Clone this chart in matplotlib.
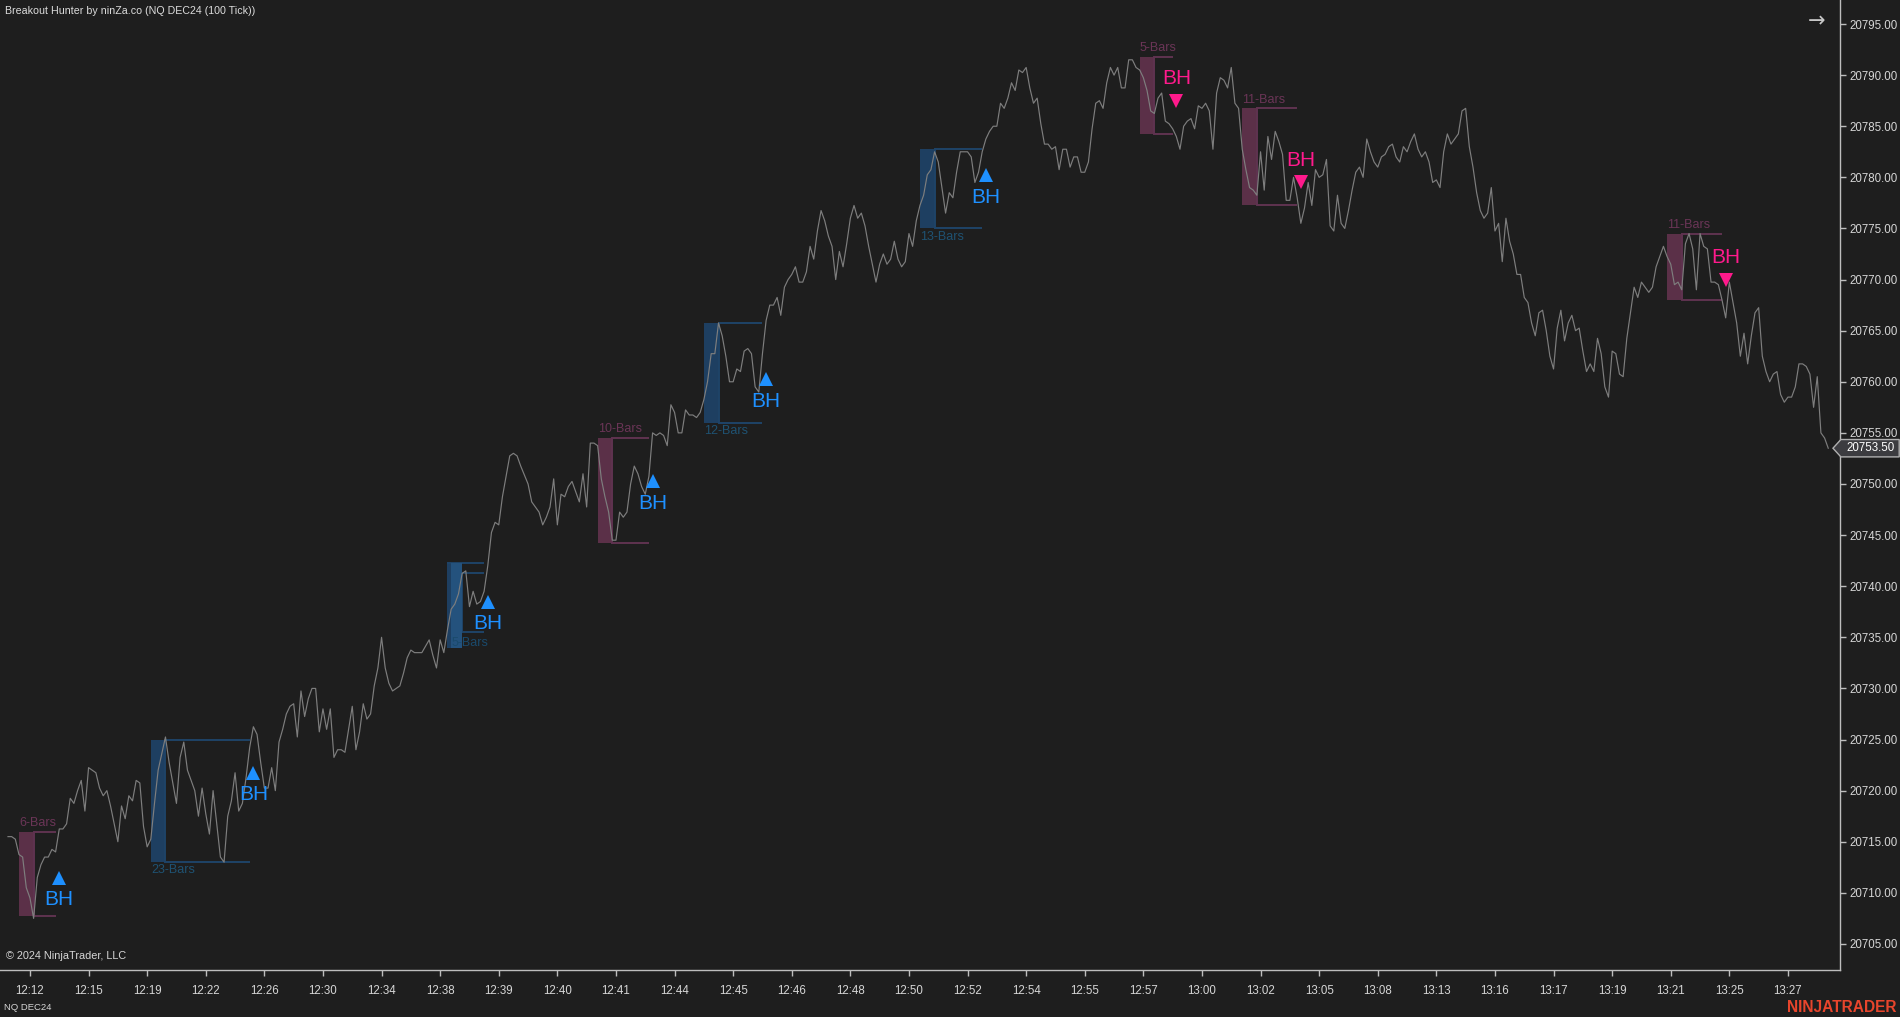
import numpy as np
import matplotlib.pyplot as plt
from matplotlib.patches import Rectangle, Polygon
from matplotlib.transforms import blended_transform_factory

plt.rcParams['font.family'] = ['Liberation Sans', 'DejaVu Sans']

BG = '#1e1e1e'
AXIS_COL = '#bdbdbd'
TXT_COL = '#d6d6d6'

# x axis: bar index (100 tick bars), one label every 16 bars
time_labels = ['12:12', '12:15', '12:19', '12:22', '12:26', '12:30', '12:34', '12:38',
               '12:39', '12:40', '12:41', '12:44', '12:45', '12:46', '12:48', '12:50',
               '12:52', '12:54', '12:55', '12:57', '13:00', '13:02', '13:05', '13:08',
               '13:13', '13:16', '13:17', '13:19', '13:21', '13:25', '13:27']
tick_bars = list(range(6, 487, 16))
price_ticks = np.arange(20705, 20796, 5)

# close prices, bars listed in gap_bars were not read
gap_bars = [42, 45, 112, 114, 141, 144, 255, 443]
close = [
    20715.5, 20715.5, 20715.25, 20713.75, 20713.5, 20710.5, 20709.5, 20707.5, 20711.5, 20712.75,
    20713.5, 20713.5, 20714.25, 20714, 20716.25, 20716.25, 20716.75, 20719.25, 20718.75, 20720,
    20721, 20718, 20722.25, 20722, 20721.75, 20720.25, 20719.5, 20720, 20718.5, 20716.75,
    20715, 20718.5, 20717.25, 20719.5, 20719, 20721, 20720.75, 20716.5, 20714.5, 20715.25,
    20718.75, 20722, 20725.25, 20722.75, 20718.75, 20723.25, 20724.75, 20722,
    20721, 20720, 20717.5, 20720.25, 20717.75, 20715.75, 20720, 20716.75, 20713.5, 20713,
    20717.5, 20719, 20721.75, 20718, 20718.75, 20721.25, 20724.25, 20726.25, 20725.5, 20722.75,
    20720.25, 20720.25, 20722.25, 20720, 20724.75, 20726, 20727.5, 20728.25, 20728.5, 20725.25,
    20729.75, 20727.25, 20729, 20730, 20730, 20725.75, 20728, 20726, 20728, 20723.25,
    20724, 20724, 20723.75, 20726, 20728.25, 20724, 20725.75, 20728.5, 20727, 20727.5,
    20730.25, 20732, 20735, 20732, 20730.5, 20729.75, 20730, 20730.25, 20731.5, 20733,
    20733.75, 20733.5, 20733.5, 20734.75, 20733.25, 20732, 20734.75, 20733.5,
    20735.75, 20737.75, 20738.25, 20739.25, 20741.25, 20741.5, 20738, 20739.5, 20738.25, 20738.5,
    20739.5, 20742, 20745.25, 20746.25, 20746, 20748.75, 20750.75, 20752.75, 20753, 20752.75,
    20751.75, 20750, 20748.25, 20747.25, 20746, 20746.75, 20747.75, 20750.5,
    20746, 20749, 20748.75, 20749.75, 20750.25, 20749.25, 20748.25, 20751, 20747.75, 20754,
    20754, 20753.75, 20750.5, 20748.75, 20747.25, 20744.5, 20744.5, 20747.25, 20746.75, 20747.25,
    20750, 20751.75, 20751, 20749.75, 20749, 20750.75, 20755, 20754.75, 20755, 20754.75,
    20753.75, 20757.75, 20757, 20755, 20755, 20757.25, 20756.75, 20756.75, 20756.5, 20757,
    20758.25, 20760, 20762.75, 20762.75, 20765.75, 20764.5, 20762.5, 20760, 20760, 20761.25,
    20761, 20763, 20763.25, 20762.75, 20759.5, 20759, 20762.75, 20766, 20767.5, 20767.5,
    20768.25, 20766.5, 20769.25, 20770, 20770.5, 20771.25, 20769.75, 20769.75, 20770.75, 20773.25,
    20772, 20774.75, 20776.75, 20775.75, 20774.25, 20773.25, 20770, 20772.75, 20771.25, 20773.5,
    20776, 20777.25, 20776, 20776.5, 20775.25, 20773.25, 20771.5, 20769.75, 20771.5, 20772.5,
    20771.5, 20772, 20773.75, 20772, 20771.25, 20771.75, 20774.5, 20773.25, 20775.75, 20777.25,
    20778.25, 20780.25, 20780.75, 20782.5, 20781.5, 20776.5, 20778.5, 20778, 20780.5,
    20782.5, 20782.5, 20782.5, 20782, 20779.5, 20780.5, 20782.5, 20783.75, 20784.5, 20785,
    20785, 20787.25, 20786.75, 20787.75, 20789.25, 20788.5, 20790.5, 20790.25, 20790.75, 20788.75,
    20787.25, 20787.75, 20785.25, 20783.25, 20783.25, 20782.75, 20783, 20780.75, 20782.75, 20782.75,
    20781, 20782, 20782, 20780.5, 20780.5, 20781.5, 20784.75, 20787.25, 20787.5, 20786.75,
    20789.25, 20790.75, 20790, 20790.75, 20788.75, 20788.75, 20791.5, 20791.5, 20790.75, 20790.5,
    20789.75, 20788.5, 20786.5, 20786.25, 20787.75, 20788.25, 20785.5, 20785.25, 20784.75, 20784,
    20782.75, 20785, 20785.5, 20785.75, 20784.75, 20787, 20786.75, 20787.25, 20786.5, 20782.75,
    20788.25, 20789.75, 20789.5, 20788.75, 20790.75, 20787.25, 20786.75, 20782.75, 20780.75, 20779,
    20778.75, 20778.25, 20782.5, 20778.75, 20784, 20781.75, 20784.5, 20783.5, 20782.25, 20777.75,
    20777.75, 20780, 20778, 20775.5, 20777, 20779.5, 20777.25, 20780.75, 20780, 20780.25,
    20781.75, 20775.25, 20774.75, 20778.25, 20775.5, 20775, 20776.75, 20778.75, 20780.5, 20781,
    20780, 20783.75, 20782.5, 20781.5, 20781, 20782, 20782.25, 20783, 20783.25, 20782,
    20781.5, 20783, 20782.5, 20783.5, 20784.25, 20782.75, 20782, 20782.5, 20781.5, 20779.5,
    20779.75, 20779, 20782.5, 20784.25, 20783.25, 20783.75, 20784.25, 20786.5, 20786.75, 20783,
    20781, 20778.5, 20776.75, 20776, 20776.5, 20779, 20774.75, 20775.5, 20771.75, 20776,
    20773.75, 20772.5, 20770.5, 20770.5, 20768.25, 20767.75, 20765.75, 20764.5, 20766.75, 20767,
    20765, 20762.5, 20761.25, 20765.25, 20767, 20764, 20765.75, 20766.5, 20765, 20765.25,
    20763, 20761, 20761.75, 20761, 20764.25, 20762.75, 20759.5, 20758.5, 20763, 20762.75,
    20760.75, 20760.5, 20764.25, 20769.25, 20768.25, 20769.75, 20769.25, 20768.75, 20769.25,
    20771.25, 20772.25, 20773.25, 20772.25, 20771.5, 20769.5, 20769.75, 20769, 20773.5, 20774.5,
    20773, 20769, 20774.5, 20773.25, 20773, 20769.75, 20769.75, 20769.5, 20768, 20766.25,
    20769.75, 20767.75, 20765.75, 20762.5, 20764.75, 20761.75, 20764.5, 20766.75, 20767.25, 20762.5,
    20761, 20760, 20760.75, 20761, 20758.75, 20758, 20758.5, 20758.5, 20759.5, 20761.75,
    20761.75, 20761.5, 20760.75, 20757.5, 20760.5, 20755, 20754.5, 20753.5,
]
bars = [b for b in range(len(close) + len(gap_bars)) if b not in gap_bars]
last_price = close[-1]

# breakout ranges
box_n = [6, 23, 5, 10, 12, 13, 5, 11, 11]
box_bear = [True, False, False, True, False, False, True, True, True]
box_start = [3, 39, 120, 161, 190, 249, 309, 337, 453]
box_fill_end = [7, 43, 124, 165, 194, 253, 313, 341, 457]
box_end = [13, 66, 130, 175, 206, 266, 318, 352, 468]
box_high = [20716, 20725, 20742.25, 20754.5, 20765.75, 20782.75, 20791.75, 20786.75, 20774.5]
box_low = [20707.75, 20713, 20734, 20744.25, 20756, 20775, 20784.25, 20777.25, 20768]
# bracket levels (only the 12:38 range has an inner bracket)
brk_high = [20716, 20725, 20741.25, 20754.5, 20765.75, 20782.75, 20791.75, 20786.75, 20774.5]
brk_low = [20707.75, 20713, 20735.5, 20744.25, 20756, 20775, 20784.25, 20777.25, 20768]

# BH signals
sig_bar = [14, 67, 131, 176, 207, 267, 319, 353, 469]
sig_price = [20711.5, 20721.75, 20738.5, 20750.25, 20760.25, 20780.25, 20787.5, 20779.5, 20770]
sig_long = [True, True, True, True, True, True, False, False, False]

BEAR_FILL, BEAR_LINE, BEAR_TXT = '#5b3048', '#5f3350', '#6b3557'
BULL_FILL, BULL_LINE, BULL_TXT = '#1e3f61', '#1f4468', '#1f5272'
LONG_COL, SHORT_COL = '#1e90ff', '#ff1a8c'

fig = plt.figure(figsize=(19, 10.17), dpi=100)
fig.patch.set_facecolor(BG)
ax = fig.add_axes([0, 0.0462, 0.9684, 0.9538])
ax.set_facecolor(BG)

for i in range(len(box_n)):
    fc = BEAR_FILL if box_bear[i] else BULL_FILL
    lc = BEAR_LINE if box_bear[i] else BULL_LINE
    tc = BEAR_TXT if box_bear[i] else BULL_TXT
    x0, x1, x2 = box_start[i], box_fill_end[i], box_end[i]
    hi, lo = box_high[i], box_low[i]
    ax.add_patch(Rectangle((x0, lo), x1 - x0, hi - lo, fc=fc, ec='none', zorder=1))
    bh, bl = brk_high[i], brk_low[i]
    ax.plot([x1, x2], [bh, bh], color=lc, lw=1.4, zorder=1, solid_capstyle='butt')
    ax.plot([x1, x2], [bl, bl], color=lc, lw=1.4, zorder=1, solid_capstyle='butt')
    ax.plot([x1, x1], [bl, bh], color=lc, lw=1.4, zorder=1)
    label = f'{box_n[i]}-Bars'
    if bh != hi:
        # nested range: outer top line, lighter inner fill, label sits on the box bottom
        ax.plot([x0, x2], [hi, hi], color=lc, lw=1.4, zorder=1, solid_capstyle='butt')
        ax.add_patch(Rectangle((x0 + 1, lo), x1 - x0 - 1, hi - lo, fc='#24527d', ec='none', zorder=1))
        ax.annotate(label, (x0 + 1, lo), xytext=(0, 3.5), textcoords='offset points',
                    ha='left', va='center', fontsize=9, color='#1a4a6c', zorder=4)
    elif box_bear[i]:
        ax.annotate(label, (x0, hi), xytext=(0, 2), textcoords='offset points',
                    ha='left', va='bottom', fontsize=9, color=tc, zorder=4)
    else:
        ax.annotate(label, (x0, lo), xytext=(0, -1.5), textcoords='offset points',
                    ha='left', va='top', fontsize=9, color=tc, zorder=4)

ax.plot(bars, close, color='#7e7e7e', lw=0.85, zorder=2)

for b, p, lg in zip(sig_bar, sig_price, sig_long):
    col = LONG_COL if lg else SHORT_COL
    ax.plot(b, p, marker='^' if lg else 'v', ms=9.5, mew=0, color=col, zorder=3)
    ax.annotate('BH', (b, p), xytext=(0, -16 if lg else 16), textcoords='offset points',
                ha='center', va='center', fontsize=15, color=col, zorder=3)

ax.set_xlim(-2.18, 500.2)
ax.set_ylim(20702.45, 20797.35)
ax.set_xticks(tick_bars)
ax.set_xticklabels(time_labels)
ax.set_yticks(price_ticks)
ax.set_yticklabels([f'{v:.2f}' for v in price_ticks])
ax.yaxis.tick_right()
for s in ['top', 'left']:
    ax.spines[s].set_visible(False)
for s in ['right', 'bottom']:
    ax.spines[s].set_color(AXIS_COL)
    ax.spines[s].set_linewidth(1.0)
ax.tick_params(axis='both', direction='out', length=4, width=1, color=AXIS_COL,
               labelcolor=TXT_COL, labelsize=8.3)
ax.tick_params(axis='x', pad=6.5)
ax.tick_params(axis='y', pad=3)

# last price tag
tr = blended_transform_factory(ax.transAxes, ax.transData)
tag = Polygon([(0.9962, last_price), (1.0005, last_price + 0.85), (1.0322, last_price + 0.85),
               (1.0322, last_price - 0.85), (1.0005, last_price - 0.85)],
              closed=True, transform=tr, fc='#3c3c40', ec='#b0b0b0', lw=1, clip_on=False, zorder=5)
ax.add_patch(tag)
ax.text(1.0165, last_price, f'{last_price:.2f}', transform=tr, ha='center', va='center',
        fontsize=8.3, color='white', clip_on=False, zorder=6)

ax.text(0.987, 0.978, '\u2192', transform=ax.transAxes, ha='center', va='center',
        fontsize=15, color='#c8c8c8', family=['DejaVu Sans'])
ax.text(0.0033, 0.0144, '\u00a9 2024 NinjaTrader, LLC', transform=ax.transAxes,
        ha='left', va='center', fontsize=7.8, color=TXT_COL)

fig.text(0.0026, 0.989, 'Breakout Hunter by ninZa.co (NQ DEC24 (100 Tick))',
         ha='left', va='center', fontsize=7.7, color='#dcdcdc')
fig.text(0.002, 0.0098, 'NQ DEC24', ha='left', va='center', fontsize=6.8, color=TXT_COL)
fig.text(0.998, 0.0098, 'NINJATRADER', ha='right', va='center', fontsize=11.2,
         fontweight='bold', color='#e8452c')

fig.savefig('out.png', dpi=100, facecolor=BG)
